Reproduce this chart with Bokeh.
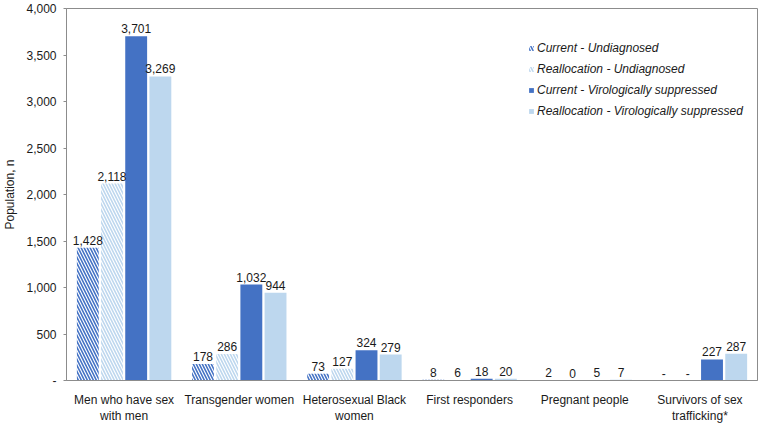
from bokeh.plotting import figure
from bokeh.models import ColumnDataSource, FactorRange, Range1d, LabelSet, Legend, LegendItem, CustomJSTickFormatter, FixedTicker
from bokeh.core.properties import value
from bokeh.transform import dodge
from bokeh.embed import file_html
from bokeh.resources import INLINE

categories = ["Men who have sex\nwith men", "Transgender women", "Heterosexual Black\nwomen",
              "First responders", "Pregnant people", "Survivors of sex\ntrafficking*"]
series_names = ["Current - Undiagnosed", "Reallocation - Undiagnosed",
                "Current - Virologically suppressed", "Reallocation - Virologically suppressed"]
current_undiagnosed = [1428, 178, 73, 8, 2, None]
reallocation_undiagnosed = [2118, 286, 127, 6, 0, None]
current_suppressed = [3701, 1032, 324, 18, 5, 227]
reallocation_suppressed = [3269, 944, 279, 20, 7, 287]
y_ticks = [0, 500, 1000, 1500, 2000, 2500, 3000, 3500, 4000]

DARK = "#4472C4"
LIGHT = "#BDD7EE"
FONT = "Liberation Sans"

p = figure(width=761, height=426, x_range=FactorRange(*categories), y_range=Range1d(0, 4000),
           output_backend="svg", toolbar_location=None,
           min_border_left=10, min_border_right=4, min_border_top=8, min_border_bottom=0)

p.outline_line_color = "#8c8c8c"
p.outline_line_width = 1
p.xgrid.grid_line_color = None
p.ygrid.grid_line_color = None

series = [current_undiagnosed, reallocation_undiagnosed, current_suppressed, reallocation_suppressed]
offsets = [-0.315, -0.105, 0.105, 0.315]
styles = [
    dict(fill_color="white", line_color=None, hatch_pattern="\\", hatch_color=DARK, hatch_scale=6, hatch_weight=1.6),
    dict(fill_color="white", line_color=None, hatch_pattern="\\", hatch_color=LIGHT, hatch_scale=6, hatch_weight=1.6),
    dict(fill_color=DARK, line_color=None),
    dict(fill_color=LIGHT, line_color=None),
]

items = []
for name, vals, off, st in zip(series_names, series, offsets, styles):
    top = [v if v is not None else 0 for v in vals]
    txt = [f"{v:,}" if v is not None else "-" for v in vals]
    src = ColumnDataSource(dict(cat=categories, top=top, txt=txt))
    r = p.vbar(x=dodge("cat", off, range=p.x_range), top="top", width=0.19, source=src, **st)
    items.append(LegendItem(label=name, renderers=[r]))
    lbl = LabelSet(x=dodge("cat", off, range=p.x_range), y="top", text="txt", source=src,
                   text_align="center", text_baseline="bottom", y_offset=3,
                   text_font=value(FONT), text_font_size="12px", text_color="#1a1a1a")
    p.add_layout(lbl)

legend = Legend(items=items, location=(462, 262), orientation="vertical",
                label_text_font=FONT, label_text_font_style="italic", label_text_font_size="12px",
                label_text_color="#1a1a1a", glyph_width=6, glyph_height=6, label_height=14,
                spacing=7, padding=0, margin=0, border_line_color=None, background_fill_alpha=0,
                label_standoff=3)
p.add_layout(legend)

p.yaxis.ticker = FixedTicker(ticks=y_ticks)
p.yaxis.formatter = CustomJSTickFormatter(code="return tick == 0 ? '-' : tick.toLocaleString('en-US');")
p.yaxis.axis_label = "Population, n"
p.yaxis.axis_label_text_font = FONT
p.yaxis.axis_label_text_font_style = "normal"
p.yaxis.axis_label_text_font_size = "12px"
p.yaxis.axis_label_text_color = "#1a1a1a"
p.yaxis.axis_label_standoff = 6
p.yaxis.major_label_text_font = FONT
p.yaxis.major_label_text_font_size = "12px"
p.yaxis.major_label_text_color = "#1a1a1a"
p.yaxis.axis_line_color = "#8c8c8c"
p.yaxis.major_tick_line_color = "#8c8c8c"
p.yaxis.major_tick_out = 3
p.yaxis.major_tick_in = 0
p.yaxis.minor_tick_line_color = None
p.yaxis.major_label_standoff = 7

p.xaxis.major_label_text_font = FONT
p.xaxis.major_label_text_font_size = "12px"
p.xaxis.major_label_text_color = "#1a1a1a"
p.xaxis.axis_line_color = "#8c8c8c"
p.xaxis.major_tick_line_color = None
p.xaxis.minor_tick_line_color = None
p.xaxis.major_label_standoff = 6

with open("out.html", "w") as f:
    f.write(file_html(p, INLINE))
